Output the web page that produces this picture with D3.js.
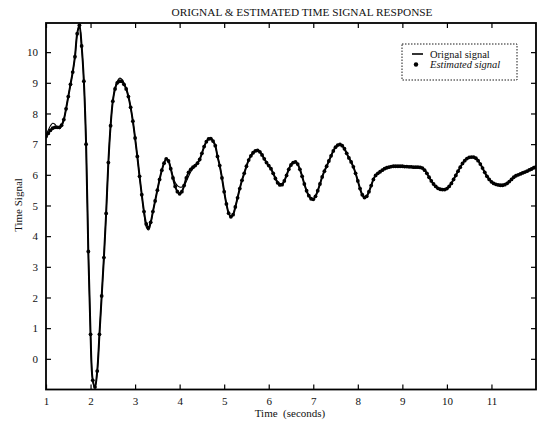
<!DOCTYPE html>
<html><head><meta charset="utf-8">
<script src="https://cdn.jsdelivr.net/npm/d3@7"></script>
<style>body{margin:0;background:#fff}text{font-family:"Liberation Serif","DejaVu Serif",serif;fill:#111}</style>
</head><body>
<svg id="c" width="537" height="421"></svg>
<script>
// sampling grid: start time and step (seconds)
const tStart = 1.0, tStep = 0.05;
const xTicks = [1,2,3,4,5,6,7,8,9,10,11];
const yTicks = [0,1,2,3,4,5,6,7,8,9,10];
const estimated = [
 7.25,7.35,7.45,7.52,7.55,7.55,7.55,7.62,7.8,8.15,8.55,8.95,9.35,9.85,10.6,10.88,10.2,9.05,7.0,3.5,
 0.8,-0.7,-0.92,-0.4,0.8,2.05,3.3,4.74,6.4,7.6,8.4,8.8,9.0,9.05,9.05,8.95,8.8,8.55,8.2,7.75,
 7.2,6.6,5.95,5.35,4.8,4.4,4.27,4.45,4.8,5.15,5.5,5.85,6.15,6.38,6.52,6.45,6.2,5.9,5.62,5.45,
 5.38,5.45,5.65,5.9,6.08,6.18,6.25,6.3,6.38,6.5,6.7,6.92,7.08,7.17,7.18,7.1,6.95,6.6,6.3,5.9,
 5.45,5.05,4.75,4.63,4.7,4.95,5.25,5.55,5.82,6.05,6.28,6.48,6.62,6.72,6.78,6.8,6.75,6.65,6.52,6.4,
 6.3,6.2,6.05,5.88,5.74,5.67,5.68,5.8,5.98,6.18,6.32,6.4,6.42,6.35,6.18,5.95,5.7,5.48,5.32,5.22,
 5.2,5.3,5.48,5.7,5.93,6.12,6.28,6.45,6.62,6.78,6.9,6.97,6.99,6.95,6.85,6.7,6.55,6.42,6.26,6.05,
 5.8,5.55,5.35,5.26,5.3,5.45,5.65,5.85,5.98,6.05,6.1,6.15,6.2,6.23,6.25,6.27,6.28,6.28,6.28,6.28,
 6.28,6.27,6.27,6.26,6.26,6.25,6.25,6.25,6.24,6.22,6.15,6.05,5.92,5.8,5.7,5.62,5.56,5.53,5.52,5.52,
 5.55,5.62,5.72,5.85,5.98,6.12,6.25,6.37,6.46,6.53,6.57,6.58,6.58,6.54,6.46,6.35,6.22,6.08,5.95,5.85,
 5.77,5.72,5.69,5.67,5.66,5.66,5.68,5.72,5.78,5.85,5.92,5.97,6.0,6.03,6.06,6.09,6.12,6.16,6.19,6.23,
 6.26];
const original = [
 7.3,7.45,7.6,7.68,7.65,7.55,7.5,7.58,7.8,8.15,8.55,8.95,9.35,9.85,10.6,10.9,10.2,9.05,7.0,3.5,
 0.8,-0.7,-0.95,-0.4,0.8,2.05,3.3,4.74,6.4,7.6,8.4,8.85,9.05,9.15,9.12,9.0,8.82,8.55,8.2,7.75,
 7.2,6.6,5.95,5.35,4.75,4.3,4.2,4.4,4.8,5.15,5.5,5.85,6.15,6.38,6.52,6.45,6.22,5.95,5.75,5.65,
 5.6,5.6,5.65,5.78,5.95,6.1,6.2,6.28,6.38,6.5,6.7,6.92,7.08,7.17,7.2,7.1,6.95,6.6,6.3,5.9,
 5.45,5.05,4.75,4.65,4.72,4.95,5.25,5.55,5.82,6.05,6.28,6.48,6.62,6.72,6.78,6.8,6.75,6.65,6.52,6.4,
 6.3,6.2,6.05,5.9,5.78,5.72,5.72,5.8,5.98,6.2,6.35,6.42,6.42,6.33,6.18,5.95,5.7,5.48,5.32,5.22,
 5.2,5.3,5.48,5.7,5.93,6.12,6.28,6.45,6.62,6.78,6.9,6.97,6.99,6.95,6.85,6.7,6.55,6.42,6.26,6.05,
 5.8,5.55,5.35,5.26,5.3,5.45,5.65,5.85,5.98,6.05,6.1,6.15,6.2,6.23,6.25,6.27,6.28,6.28,6.28,6.28,
 6.28,6.27,6.27,6.26,6.26,6.25,6.25,6.25,6.24,6.22,6.15,6.05,5.92,5.8,5.7,5.62,5.56,5.53,5.52,5.52,
 5.55,5.62,5.72,5.85,5.98,6.12,6.25,6.37,6.46,6.53,6.57,6.58,6.58,6.54,6.46,6.35,6.22,6.08,5.95,5.85,
 5.77,5.72,5.69,5.67,5.66,5.66,5.68,5.72,5.78,5.85,5.92,5.97,6.0,6.03,6.06,6.09,6.12,6.16,6.19,6.23,
 6.26];
const legendLabels = ["Orignal signal","Estimated signal"];

const svg = d3.select("#c");
const L=46, R=536, T=23, B=389.5;
const x = d3.scaleLinear().domain([1,12]).range([L,R]);
const y = d3.scaleLinear().domain([-1,10.95]).range([B,T]);
const tOf = i => tStart + i*tStep;

svg.append("clipPath").attr("id","cl").append("rect")
  .attr("x",L).attr("y",T).attr("width",R-L).attr("height",B-T);

const line = d3.line().x((d,i)=>x(tOf(i))).y(d=>y(d)).curve(d3.curveCatmullRom);
const g = svg.append("g").attr("clip-path","url(#cl)");
g.append("path").datum(original).attr("d",line).attr("fill","none").attr("stroke","#000").attr("stroke-width",1.1);
g.append("path").datum(estimated).attr("d",line).attr("fill","none").attr("stroke","#000").attr("stroke-width",2);
g.selectAll("circle").data(estimated).join("circle")
  .attr("cx",(d,i)=>x(tOf(i))).attr("cy",d=>y(d)).attr("r",1.9).attr("fill","#000");

const fs = "11px";
const ax = svg.append("g").attr("transform",`translate(0,${B})`)
  .call(d3.axisBottom(x).tickValues(xTicks).tickFormat(d3.format("d")).tickSizeInner(-5).tickSizeOuter(0).tickPadding(8));
const axT = svg.append("g").attr("transform",`translate(0,${T})`)
  .call(d3.axisTop(x).tickValues(xTicks).tickFormat("").tickSizeInner(-5).tickSizeOuter(0));
const ay = svg.append("g").attr("transform",`translate(${L},0)`)
  .call(d3.axisLeft(y).tickValues(yTicks).tickFormat(d3.format("d")).tickSizeInner(-5).tickSizeOuter(0).tickPadding(8));
const ayR = svg.append("g").attr("transform",`translate(${R},0)`)
  .call(d3.axisRight(y).tickValues(yTicks).tickFormat("").tickSizeInner(-5).tickSizeOuter(0));
[ax,axT,ay,ayR].forEach(a=>{
  a.select(".domain").remove();
  a.selectAll(".tick line").attr("stroke","#000").attr("stroke-width",1.2);
  a.selectAll("text").attr("font-family","Liberation Serif, serif").attr("font-size",fs).attr("fill","#111");
});
svg.append("rect").attr("x",L).attr("y",T).attr("width",R-L).attr("height",B-T)
  .attr("fill","none").attr("stroke","#000").attr("stroke-width",1.8);

svg.append("text").attr("x",302).attr("y",16).attr("text-anchor","middle")
  .attr("font-size","11.3px").text("ORIGNAL & ESTIMATED TIME SIGNAL RESPONSE");
svg.append("text").attr("x",290).attr("y",417).attr("text-anchor","middle")
  .attr("font-size","11px").style("white-space","pre").text("Time  (seconds)");
svg.append("text").attr("transform","translate(22,205) rotate(-90)").attr("text-anchor","middle")
  .attr("font-size","11px").text("Time Signal");

const lg = svg.append("g");
lg.append("rect").attr("x",402).attr("y",44).attr("width",115).attr("height",36)
  .attr("fill","#fff").attr("stroke","#000").attr("stroke-width",0.9).attr("stroke-dasharray","1.5,1.5");
lg.append("line").attr("x1",412).attr("x2",423).attr("y1",54).attr("y2",54).attr("stroke","#000").attr("stroke-width",1.6);
lg.append("circle").attr("cx",416).attr("cy",64.5).attr("r",2.2).attr("fill","#000");
lg.append("text").attr("x",430).attr("y",57.5).attr("font-size","10.5px").text(legendLabels[0]);
lg.append("text").attr("x",430).attr("y",68).attr("font-size","10.5px").attr("font-style","italic").text(legendLabels[1]);
</script>
</body></html>
